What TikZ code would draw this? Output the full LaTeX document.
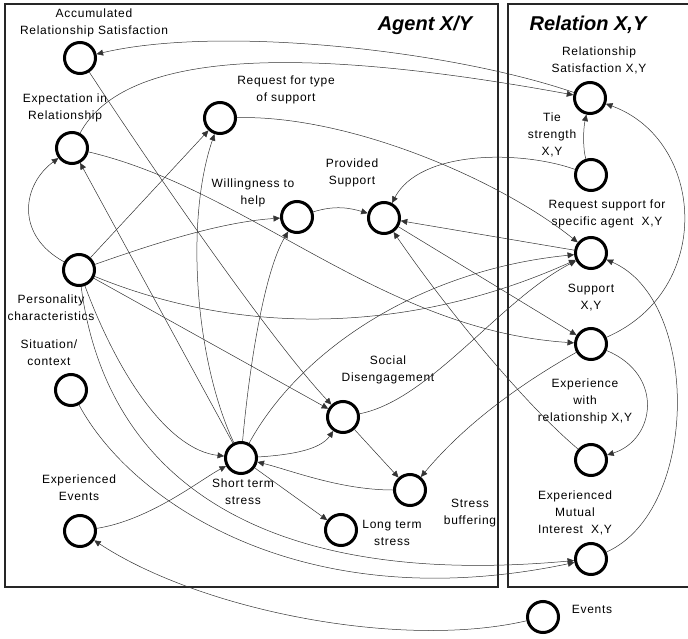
\documentclass[tikz,border=0pt]{standalone}
\usepackage{fontspec}
\setmainfont{Liberation Sans}
\newfontfamily\lblfont[LetterSpace=6]{Liberation Sans}
\usetikzlibrary{arrows.meta}
\tikzset{
  nd/.style={circle, draw, line width=3pt, minimum size=31pt, inner sep=0pt},
  lbl/.style={font=\lblfont\fontsize{12}{17}\selectfont, align=center, inner sep=0pt},
  ttl/.style={font=\fontsize{20}{24}\selectfont\bfseries\itshape, inner sep=0pt},
  con/.style={line width=0.5pt, draw=black!80, -{Triangle[length=6.5pt,width=6pt]}},
  frame/.style={line width=1.3pt, draw=black!85},
}
\begin{document}
\begin{tikzpicture}[x=1pt,y=-1pt]
\useasboundingbox (0,0) rectangle (688,639);
% frames
\draw[frame] (5,4) rectangle (498,587);
\draw[frame] (690,4) -- (508,4) -- (508,587) -- (690,587);
\node[ttl] (tA) at (425,25) {Agent X/Y};
\node[ttl] (tR) at (588,25) {Relation X,Y};
% nodes
\node[nd] (ARS) at (80,58) {};
\node[nd] (ER) at (72,148) {};
\node[nd] (RTS) at (220,118) {};
\node[nd] (WtH) at (297,217) {};
\node[nd] (PS) at (384,218) {};
\node[nd] (PC) at (79,270) {};
\node[nd] (SC) at (71,390) {};
\node[nd] (EE) at (80,531) {};
\node[nd] (STS) at (241,458) {};
\node[nd] (SD) at (343,417) {};
\node[nd] (SB) at (410,490) {};
\node[nd] (LTS) at (341,530) {};
\node[nd] (RS) at (590,98) {};
\node[nd] (TS) at (591,175) {};
\node[nd] (RSSA) at (591,253) {};
\node[nd] (SXY) at (591,344) {};
\node[nd] (EwR) at (591,460) {};
\node[nd] (EMI) at (591,559) {};
\node[nd] (EV) at (543,617) {};
% labels
\node[lbl] (lARS) at (94,23) {Accumulated\\Relationship Satisfaction};
\node[lbl] (lER) at (65,108) {Expectation in\\Relationship};
\node[lbl] (lRTS) at (286,90) {Request for type\\of support};
\node[lbl] (lWtH) at (253,193) {Willingness to\\help};
\node[lbl] (lPS) at (352,173) {Provided\\Support};
\node[lbl] (lPC) at (51,308) {Personality\\characteristics};
\node[lbl] (lSC) at (49,353) {Situation/\\context};
\node[lbl] (lEE) at (79,488) {Experienced\\Events};
\node[lbl] (lSTS) at (243,492) {Short term\\stress};
\node[lbl] (lSD) at (388,370) {Social\\Disengagement};
\node[lbl] (lSB) at (470,513) {Stress\\buffering};
\node[lbl] (lLTS) at (392,533) {Long term\\stress};
\node[lbl] (lRS) at (599,60) {Relationship\\Satisfaction X,Y};
\node[lbl] (lTS) at (552,135) {Tie\\strength\\X,Y};
\node[lbl] (lRSSA) at (607,214) {Request support for\\specific agent\ \ X,Y};
\node[lbl] (lSXY) at (591,298) {Support\\X,Y};
\node[lbl] (lEwR) at (585,401) {Experience\\with\\relationship X,Y};
\node[lbl] (lEMI) at (575,513) {Experienced\\Mutual\\Interest\ \ X,Y};
\node[lbl] (lEV) at (592,609) {Events};
% connectors
\draw[con] (RS) .. controls (450,50) and (220,25) .. (ARS);
\draw[con] (ER) .. controls (125,50) and (300,45) .. (RS);
\draw[con] (PC) .. controls (15,235) and (22,185) .. (ER);
\draw[con] (STS) -- (ER);
\draw[con] (PC) -- (RTS);
\draw[con] (STS) .. controls (195,360) and (185,220) .. (RTS);
\draw[con] (PC) .. controls (150,245) and (220,222) .. (WtH);
\draw[con] (STS) .. controls (250,360) and (265,270) .. (WtH);
\draw[con] (WtH) .. controls (335,205) and (350,208) .. (PS);
\draw[con] (TS) .. controls (520,150) and (420,150) .. (PS);
\draw[con] (RSSA) -- (PS);
\draw[con] (PS) -- (SXY);
\draw[con] (EwR) .. controls (520,400) and (440,300) .. (PS);
\draw[con] (ER) .. controls (250,190) and (380,330) .. (SXY);
\draw[con] (ARS) .. controls (180,210) and (280,350) .. (SD);
\draw[con] (PC) .. controls (250,340) and (420,330) .. (RSSA);
\draw[con] (PC) -- (SD);
\draw[con] (PC) .. controls (120,380) and (170,450) .. (STS);
\draw[con] (PC) .. controls (105,470) and (250,590) .. (EMI);
\draw[con] (SC) .. controls (130,500) and (300,620) .. (EMI);
\draw[con] (EV) .. controls (400,650) and (200,610) .. (EE);
\draw[con] (EE) .. controls (150,520) and (200,480) .. (STS);
\draw[con] (STS) .. controls (290,455) and (320,450) .. (SD);
\draw[con] (SD) -- (SB);
\draw[con] (SB) .. controls (340,490) and (290,470) .. (STS);
\draw[con] (STS) -- (LTS);
\draw[con] (SXY) .. controls (510,390) and (460,430) .. (SB);
\draw[con] (SD) .. controls (430,400) and (500,300) .. (RSSA);
\draw[con] (STS) .. controls (300,350) and (420,270) .. (RSSA);
\draw[con] (RTS) .. controls (350,115) and (500,180) .. (RSSA);
\draw[con] (TS) .. controls (583,150) and (583,130) .. (RS);
\draw[con] (SXY) .. controls (715,290) and (705,140) .. (RS);
\draw[con] (SXY) .. controls (665,375) and (655,440) .. (EwR);
\draw[con] (EMI) .. controls (700,510) and (700,300) .. (RSSA);
\end{tikzpicture}
\end{document}
